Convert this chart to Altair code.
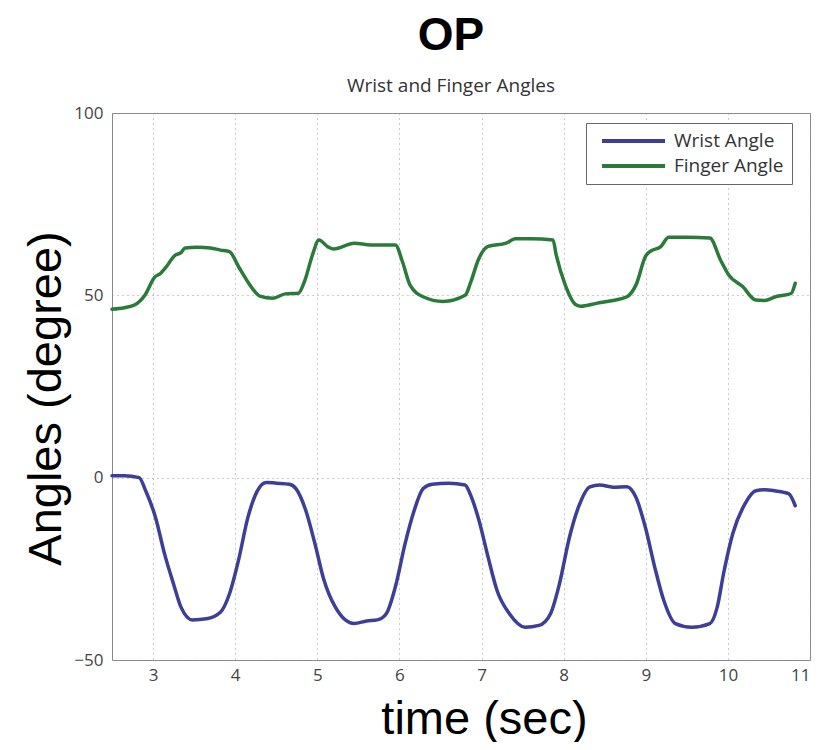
import altair as alt
import pandas as pd

# Wrist angle (degrees) vs time (sec)
wrist_t = [2.50, 2.65, 2.83, 2.91, 3.03, 3.14, 3.25, 3.34, 3.48, 3.65, 3.82, 3.93, 4.04, 4.155, 4.27,
           4.38, 4.50, 4.66, 4.74, 4.86, 4.97, 5.08, 5.22, 5.45, 5.60, 5.73, 5.84, 5.95, 6.07, 6.18,
           6.29, 6.40, 6.60, 6.80, 6.86, 6.97, 7.08, 7.19, 7.34, 7.53, 7.70, 7.84, 7.95, 8.07, 8.18,
           8.32, 8.44, 8.60, 8.77, 8.88, 8.995, 9.11, 9.22, 9.36, 9.56, 9.78, 9.87, 9.95, 10.06, 10.21,
           10.34, 10.45, 10.57, 10.74, 10.82]
wrist = [0.5, 0.5, 0.0, -3.6, -10.9, -20.9, -29.2, -35.5, -39.0, -38.7, -36.9, -31.9, -22.7, -10.9, -3.6,
         -1.3, -1.5, -1.8, -3.0, -9.0, -18.0, -28.0, -35.5, -40.0, -39.3, -39.0, -37.3, -30.0, -18.0, -9.0,
         -3.0, -1.8, -1.5, -2.0, -4.4, -11.8, -21.8, -31.0, -37.3, -41.0, -40.5, -37.3, -29.0, -16.4, -8.1,
         -2.5, -2.0, -2.6, -2.5, -5.4, -13.6, -24.6, -33.7, -40.0, -41.0, -40.0, -35.5, -26.0, -15.3, -7.1,
         -3.6, -3.3, -3.6, -4.4, -7.7]

# Finger angle (degrees) vs time (sec)
finger_t = [2.50, 2.65, 2.78, 2.90, 3.02, 3.09, 3.15, 3.27, 3.34, 3.39, 3.54, 3.70, 3.82, 3.93, 4.04,
            4.18, 4.24, 4.30, 4.46, 4.61, 4.77, 4.85, 4.94, 5.02, 5.13, 5.20, 5.45, 5.65, 5.95, 6.04,
            6.13, 6.29, 6.53, 6.80, 6.87, 6.96, 7.08, 7.30, 7.41, 7.60, 7.87, 7.91, 8.02, 8.15, 8.21,
            8.40, 8.60, 8.77, 8.88, 9.00, 9.05, 9.18, 9.28, 9.50, 9.78, 9.91, 10.01, 10.18, 10.34, 10.45,
            10.58, 10.77, 10.82]
finger = [46.2, 46.6, 47.4, 50.0, 55.0, 56.0, 57.5, 61.0, 61.7, 63.0, 63.2, 63.0, 62.4, 62.0, 57.9,
          52.8, 51.0, 49.8, 49.2, 50.4, 50.6, 54.2, 61.0, 65.2, 63.3, 62.7, 64.3, 63.8, 63.8, 59.0,
          52.8, 49.6, 48.3, 50.0, 53.7, 59.7, 63.4, 64.3, 65.5, 65.5, 65.2, 61.0, 52.8, 47.4, 47.0,
          47.8, 48.6, 49.6, 52.8, 60.8, 62.0, 63.3, 65.9, 65.9, 65.7, 59.7, 55.6, 52.4, 48.7, 48.6,
          49.6, 50.5, 53.3]

series_names = ["Wrist Angle", "Finger Angle"]
series_colors = ["#3c3e97", "#2a7a3a"]
x_ticks = [3, 4, 5, 6, 7, 8, 9, 10, 11]
y_ticks = [-50, 0, 50, 100]

df = pd.concat([
    pd.DataFrame({"time": wrist_t, "angle": wrist, "series": series_names[0], "order": range(len(wrist))}),
    pd.DataFrame({"time": finger_t, "angle": finger, "series": series_names[1], "order": range(len(finger))}),
], ignore_index=True)

chart = alt.Chart(df).mark_line(strokeWidth=3.5, strokeJoin="round", strokeCap="round",
                                interpolate="monotone").encode(
    x=alt.X("time:Q",
            scale=alt.Scale(domain=[2.5, 11], nice=False, zero=False),
            axis=alt.Axis(values=x_ticks, title="time (sec)", labelPadding=7,
                          titleX=372, titleY=73, titleAlign="center", titleBaseline="alphabetic")),
    y=alt.Y("angle:Q",
            scale=alt.Scale(domain=[-50, 100], nice=False, zero=False),
            axis=alt.Axis(values=y_ticks, title="Angles (degree)", labelPadding=9,
                          titleX=-52, titleY=285, titleAlign="center", titleBaseline="alphabetic",
                          titleAngle=270)),
    color=alt.Color("series:N",
                    scale=alt.Scale(domain=series_names, range=series_colors),
                    legend=alt.Legend(title=None, orient="none", legendX=474, legendY=10,
                                      symbolType="M-0.826,0H1", symbolSize=4761, symbolStrokeWidth=4,
                                      clipHeight=20, rowPadding=5, labelOffset=7,
                                      labelFontSize=19, labelFont="Open Sans", labelColor="#333",
                                      padding=8, strokeColor="#666", fillColor="white",
                                      labelLimit=300)),
    detail="series:N",
    order="order:Q",
).properties(
    width=698,
    height=547,
    padding={"left": 104, "top": 105, "right": 5, "bottom": 82},
    autosize=alt.AutoSizeParams(type="none"),
    background="white",
    title=alt.TitleParams(
        text="OP",
        subtitle="Wrist and Finger Angles",
        font="Liberation Sans",
        fontSize=46,
        fontWeight="bold",
        color="black",
        subtitleFont="Open Sans",
        subtitleFontSize=19,
        subtitleColor="#333",
        subtitlePadding=17,
        anchor="middle",
        frame="group",
        dx=-10,
        offset=7,
    ),
).configure_view(
    stroke="#888", strokeWidth=1
).configure_axis(
    grid=True,
    gridDash=[1, 4],
    gridColor="#999",
    gridWidth=1,
    ticks=False,
    domain=False,
    labelFont="Open Sans",
    labelFontSize=17,
    labelColor="#444",
    titleFont="Liberation Sans",
    titleFontSize=47,
    titleFontWeight="normal",
    titleColor="black",
)

chart.save("out.html", embed_options={"renderer": "svg", "actions": False})
